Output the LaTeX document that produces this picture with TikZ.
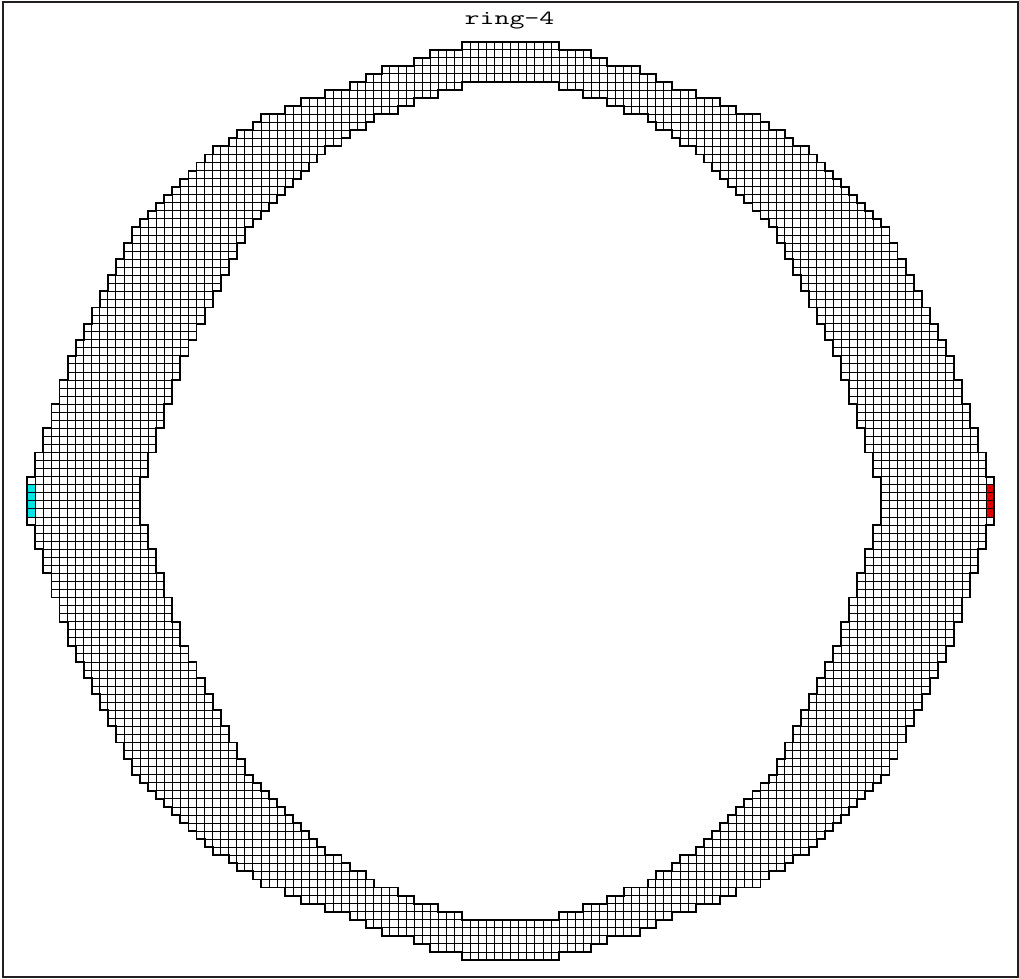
\documentclass[tikz,border=0pt]{standalone}
\usepackage{fontspec}
\definecolor{framecol}{RGB}{35,31,32}
\definecolor{cellcyan}{RGB}{0,230,230}
\definecolor{cellred}{RGB}{225,0,0}
% top row of the outer boundary for columns -1..59 (index 0 = column -1)
\def\Tlist{57,54,51,48,45,42,39,37,35,33,31,29,27,25,23,22,21,20,19,18,17,16,15,14,13,13,12,11,11,10,9,9,9,8,8,7,7,7,6,6,6,5,5,4,4,3,3,3,3,2,2,1,1,1,1,0,0,0,0,0,0}
% first empty row of the hole for columns -1..59
\def\Blist{57,57,57,57,57,57,57,57,57,57,57,57,57,57,57,54,51,48,45,42,39,37,35,33,31,29,27,25,23,22,21,20,19,18,17,16,15,14,13,13,12,11,11,10,9,9,9,8,8,7,7,7,6,6,6,5,5,5,5,5,5}
\tikzset{
  cellbox/.style={draw=black, line width=0.9pt},
  outline/.style={draw=black, line width=1.9pt, line cap=rect},
  frame/.style={draw=framecol, line width=2pt},
  title/.style={anchor=base, inner sep=0pt, font=\fontsize{20}{24}\selectfont\ttfamily}
}
\newcommand\ringquarter{%
\foreach \c in {0,...,59}{%
  \pgfmathtruncatemacro\T{{\Tlist}[\c+1]}%
  \pgfmathtruncatemacro\Tp{{\Tlist}[\c]}%
  \pgfmathtruncatemacro\B{{\Blist}[\c+1]}%
  \pgfmathtruncatemacro\Bp{{\Blist}[\c]}%
  \pgfmathtruncatemacro\Bm{\B-1}%
  \pgfmathtruncatemacro\cn{\c+1}%
  \draw[cellbox] \foreach \r in {\T,...,\Bm}{(\c,\r) rectangle (\cn,\r+1)};
  \draw[outline] (\c,\T) -- (\cn,\T);
  \ifnum\T=\Tp\else\draw[outline] (\c,\Tp) -- (\c,\T);\fi
  \ifnum\B<57 \draw[outline] (\c,\B) -- (\cn,\B);\fi
  \ifnum\B=\Bp\else\draw[outline] (\c,\Bp) -- (\c,\B);\fi
}}
\begin{document}
\begin{tikzpicture}[x=1pt,y=-1pt]
\useasboundingbox (0,0) rectangle (1019,978);
\draw[frame] (2.6,1.5) rectangle (1018.2,976.8);
\node[title] (title) at (509.5,24) {\scalebox{1.45}[1]{ring-4}};
\begin{scope}[shift={(27.3pt,-41.7pt)}, x=8.0575pt, y=-8.0555pt]
  \fill[cellcyan] (0,55) rectangle (1,59);
  \fill[cellred] (119,55) rectangle (120,59);
  \ringquarter
  \begin{scope}[shift={(120,0)}, xscale=-1]\ringquarter\end{scope}
  \begin{scope}[shift={(0,114)}, yscale=-1]\ringquarter\end{scope}
  \begin{scope}[shift={(120,114)}, xscale=-1, yscale=-1]\ringquarter\end{scope}
\end{scope}
\end{tikzpicture}
\end{document}
